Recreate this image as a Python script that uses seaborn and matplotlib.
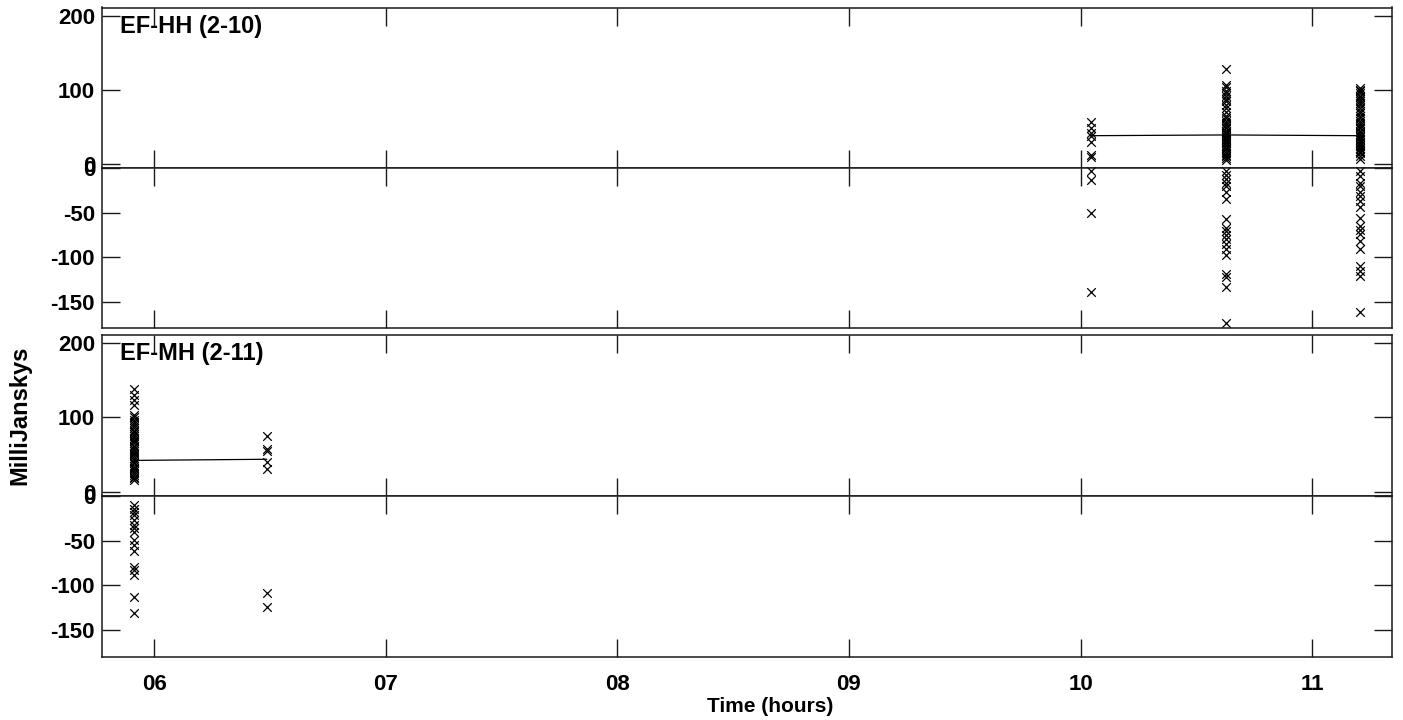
import matplotlib
matplotlib.use("Agg")
import matplotlib.pyplot as plt
import seaborn as sns
import pandas as pd

# ---------------- data ----------------
hours = [6, 7, 8, 9, 10, 11]
hour_labels = ["06", "07", "08", "09", "10", "11"]

# EF-HH (2-10): scan times (hours) and values (mJy)
hh_times = [10.045, 10.627, 11.206]
hh_pos = [
    [56, 49, 42, 37, 30, 12, 9],
    [128, 107, 104, 98, 95, 92, 88, 85, 80, 75, 70, 65, 62, 58, 55, 52, 50, 48, 45,
     43, 41, 40, 38, 36, 34, 32, 30, 28, 26, 24, 22, 20, 18, 15, 12, 10, 8, 5],
    [102, 100, 98, 95, 92, 90, 88, 85, 82, 80, 76, 72, 68, 65, 62, 58, 55, 52, 50,
     48, 45, 43, 40, 38, 36, 34, 32, 30, 28, 26, 24, 22, 20, 18, 16, 14, 10, 7],
]
hh_neg = [
    [-3, -13, -50, -139],
    [-3, -7, -12, -16, -20, -27, -35, -57, -67, -71, -75, -80, -85, -91, -97,
     -119, -122, -134, -174],
    [-3, -9, -16, -20, -27, -31, -37, -44, -56, -65, -69, -74, -82, -91, -110,
     -116, -121, -162],
]
hh_model = [38, 39, 38]

# EF-MH (2-11)
mh_times = [5.915, 6.487]
mh_pos = [
    [138, 130, 124, 117, 103, 100, 97, 94, 91, 88, 85, 82, 80, 78, 75, 72, 70, 68,
     65, 62, 60, 58, 55, 52, 50, 48, 45, 42, 40, 38, 35, 32, 30, 28, 25, 22, 20,
     18, 16],
    [75, 58, 55, 40, 30],
]
mh_neg = [
    [-10, -14, -18, -21, -27, -32, -36, -40, -49, -55, -62, -79, -83, -88, -113,
     -131],
    [-109, -124],
]
mh_model = [42, 43.5]

baselines = ["EF-HH (2-10)", "EF-MH (2-11)"]


def to_frame(times, groups):
    rows = []
    for t, vals in zip(times, groups):
        for v in vals:
            rows.append({"t": t, "v": v})
    return pd.DataFrame(rows)


panels = [
    (baselines[0], to_frame(hh_times, hh_pos), to_frame(hh_times, hh_neg),
     pd.DataFrame({"t": hh_times, "v": hh_model})),
    (baselines[1], to_frame(mh_times, mh_pos), to_frame(mh_times, mh_neg),
     pd.DataFrame({"t": mh_times, "v": mh_model})),
]

# ---------------- style ----------------
sns.set_style("ticks")
plt.rcParams["font.family"] = ["Liberation Sans", "DejaVu Sans"]
plt.rcParams["font.weight"] = "bold"
plt.rcParams["axes.linewidth"] = 1.1
plt.rcParams["axes.edgecolor"] = "#1a1a1a"
plt.rcParams["axes.unicode_minus"] = False
plt.rcParams["text.color"] = "black"

W, H = 1403, 720
fig = plt.figure(figsize=(W / 100, H / 100), dpi=100)

left, right = 102, 1392
boxes = [  # (top, separator, bottom) in pixels
    (7.5, 168.3, 328.3),
    (335, 496, 657),
]

xlim = (5.775, 11.345)

for i, ((name, dpos, dneg, dmod), (top, sep, bot)) in enumerate(zip(panels, boxes)):
    axu = fig.add_axes([left / W, 1 - sep / H, (right - left) / W, (sep - top) / H])
    axl = fig.add_axes([left / W, 1 - bot / H, (right - left) / W, (bot - sep) / H])

    sns.scatterplot(data=dpos, x="t", y="v", ax=axu, marker="x", color="black",
                    s=38, linewidth=0.9, legend=False, clip_on=False)
    sns.lineplot(data=dmod, x="t", y="v", ax=axu, color="black", linewidth=0.9,
                 legend=False)
    sns.scatterplot(data=dneg, x="t", y="v", ax=axl, marker="x", color="black",
                    s=38, linewidth=0.9, legend=False, clip_on=False)

    axu.set_ylim(-6, 211)
    axl.set_ylim(-180, 0)
    axu.set_yticks([0, 100, 200])
    axl.set_yticks([-150, -100, -50, 0])

    for ax in (axu, axl):
        ax.set_xlim(*xlim)
        ax.set_xticks(hours)
        ax.set_xlabel("")
        ax.set_ylabel("")
        ax.tick_params(direction="in", length=13, width=1, top=True, right=True,
                       labelsize=16, pad=5, colors="#1a1a1a", labelcolor="black")
        for sp in ax.spines.values():
            sp.set_visible(True)
        for lab in ax.get_yticklabels():
            lab.set_fontweight("bold")

    axu.tick_params(labelbottom=False)
    if i == 1:
        axl.set_xticklabels(hour_labels, fontweight="bold")
        axl.tick_params(axis="x", pad=12)
    else:
        axl.tick_params(labelbottom=False)

    axu.text(18 / (right - left), 0.955, name, transform=axu.transAxes,
             ha="left", va="top", fontsize=17, fontweight="bold", color="black")

fig.text(770 / W, 1 - 706 / H, "Time (hours)", ha="center", va="center",
         fontsize=15, fontweight="bold", color="black")
fig.text(20 / W, 1 - 415 / H, "MilliJanskys", rotation=90, ha="center",
         va="center", fontsize=17, fontweight="bold", color="black")

fig.savefig("out.png", dpi=100, facecolor="white")
